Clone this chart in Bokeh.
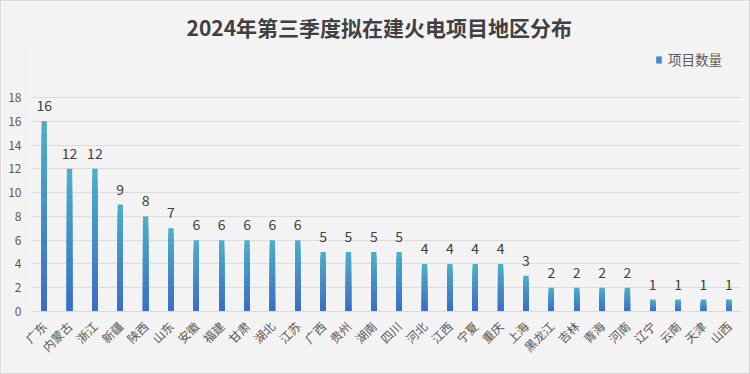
from bokeh.plotting import figure
from bokeh.models import ColumnDataSource, Range1d, FixedTicker, Legend, LegendItem
from bokeh.embed import file_html
from bokeh.resources import INLINE
from bokeh.core.properties import value
import math

# ---- data ----
regions = ["广东", "内蒙古", "浙江", "新疆", "陕西", "山东", "安徽", "福建", "甘肃", "湖北",
           "江苏", "广西", "贵州", "湖南", "四川", "河北", "江西", "宁夏", "重庆", "上海",
           "黑龙江", "吉林", "青海", "河南", "辽宁", "云南", "天津", "山西"]
counts = [16, 12, 12, 9, 8, 7, 6, 6, 6, 6,
          6, 5, 5, 5, 5, 4, 4, 4, 4, 3,
          2, 2, 2, 2, 1, 1, 1, 1]
y_ticks = [0, 2, 4, 6, 8, 10, 12, 14, 16, 18]
series_name = "项目数量"
title_text = "2024年第三季度拟在建火电项目地区分布"

FONT = "Noto Sans CJK SC"
BG = "#f3f3f3"

p = figure(width=750, height=374, x_range=regions, y_range=Range1d(0, 22.29),
           output_backend="svg", toolbar_location=None,
           background_fill_color=BG, border_fill_color=BG,
           min_border_left=30, min_border_right=10, min_border_top=45, min_border_bottom=64)
p.outline_line_color = None
p.styles = {"border": "1px solid #d9d9d9", "box-sizing": "border-box"}

p.title.text = title_text
p.title.align = "left"
p.title.offset = 155
p.title.text_font = FONT
p.title.text_font_size = "21px"
p.title.text_font_style = "bold"
p.title.text_color = "#404040"

# gradient bars: overlapping layers from the bar base, top colour drawn first (tallest)
n = 16
top_c = (0x4b, 0xb0, 0xc8)
bot_c = (0x3e, 0x6b, 0xc5)
renderers = []
for i in reversed(range(n)):
    t = (i + 0.5) / n
    c = tuple(int(round(bot_c[k] + (top_c[k] - bot_c[k]) * t)) for k in range(3))
    col = "#%02x%02x%02x" % c
    src = ColumnDataSource(dict(x=regions, top=[v * (i + 1) / n for v in counts]))
    r = p.vbar(x="x", bottom=0, top="top", width=0.21, source=src,
               fill_color=col, line_color=None)
    renderers.append(r)

# value labels
lab_src = ColumnDataSource(dict(x=regions, y=counts, t=[str(v) for v in counts]))
p.text(x="x", y="y", text="t", source=lab_src, text_align="center", text_baseline="bottom",
       y_offset=-10, text_font=value(FONT), text_font_size="14px", text_color="#404040")

# axes
p.yaxis.ticker = FixedTicker(ticks=y_ticks)
p.yaxis.axis_line_color = None
p.yaxis.major_tick_line_color = None
p.yaxis.minor_tick_line_color = None
p.yaxis.major_tick_out = 0
p.yaxis.major_tick_in = 0
p.yaxis.minor_tick_out = 0
p.yaxis.major_label_text_font = FONT
p.yaxis.major_label_text_font_size = "12px"
p.yaxis.major_label_text_color = "#595959"
p.yaxis.major_label_standoff = 10

p.xaxis.axis_line_color = "#d9d9d9"
p.xaxis.major_tick_line_color = None
p.xaxis.minor_tick_line_color = None
p.xaxis.major_tick_out = 0
p.xaxis.major_tick_in = 0
p.xaxis.minor_tick_out = 0
p.xaxis.major_label_orientation = math.pi / 4
p.xaxis.major_label_text_font = FONT
p.xaxis.major_label_text_font_size = "12px"
p.xaxis.major_label_text_color = "#595959"
p.xaxis.major_label_standoff = 12

p.xgrid.grid_line_color = None
p.ygrid.grid_line_color = "#dcdcdc"
p.ygrid.ticker = FixedTicker(ticks=y_ticks)

legend = Legend(items=[LegendItem(label=series_name, renderers=[renderers[n // 2]])],
                location=(624, 242), orientation="horizontal",
                background_fill_alpha=0, border_line_color=None,
                label_text_font=FONT, label_text_font_size="13.5px", label_text_color="#595959",
                glyph_width=7, glyph_height=9, label_standoff=6, label_height=16,
                padding=0, margin=0)
p.add_layout(legend)

open("out.html", "w").write(file_html(p, INLINE))
